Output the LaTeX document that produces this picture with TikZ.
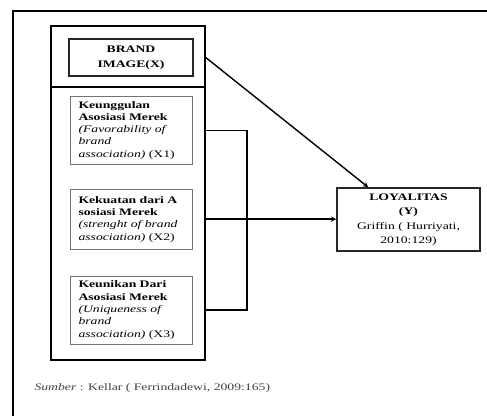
\documentclass[tikz,border=0pt]{standalone}
\usepackage{fontspec}
\setmainfont{Liberation Serif}[FakeStretch=1.37]
\usetikzlibrary{positioning}

\begin{document}
\begin{tikzpicture}[x=1pt, y=-1pt, >=stealth,
    grpbox/.style={draw, line width=1.5pt, minimum width=154pt, minimum height=334pt},
    brandbox/.style={draw=black!85, line width=1.6pt, align=center, minimum width=124pt,
        minimum height=37pt, font=\fontsize{10}{15}\selectfont\bfseries},
    textbox/.style={draw=black!55, line width=0.9pt, align=left, text width=105pt,
        inner xsep=8.5pt, minimum height=68pt, font=\fontsize{10}{12.3}\selectfont},
    loybox/.style={draw=black!85, line width=1.4pt, align=center, minimum width=143pt,
        minimum height=63pt, font=\fontsize{10}{14.5}\selectfont},
    link/.style={line width=1.4pt}]
\useasboundingbox (0,0) rectangle (487,415);
\clip (0,0) rectangle (487,415);
% page frame, runs off the picture on the right and at the bottom
\draw[line width=1.6pt] (13,440) |- (520,11);

\node[grpbox] (grp) at (128,193) {};
\coordinate (cut) at (128,87);
\draw[line width=1.4pt] (cut -| grp.west) -- (cut -| grp.east);

\node[brandbox] (brand) at (131,57.5) {BRAND\\IMAGE(X)};
\node[textbox, below=19pt of brand] (fav) {\textbf{Keunggulan}\\\textbf{Asosiasi Merek}\\\textit{(Favorability of}\\\textit{brand}\\\textit{association)} (X1)};
\node[textbox, minimum height=60pt, below=24pt of fav] (str) {\textbf{Kekuatan dari A}\\\textbf{sosiasi Merek}\\\textit{(strenght of brand}\\\textit{association)} (X2)};
\node[textbox, below=26pt of str] (uni) {\textbf{Keunikan Dari}\\\textbf{Asosiasi Merek}\\\textit{(Uniqueness of}\\\textit{brand}\\\textit{association)} (X3)};

\node[loybox] (loy) at (408.5,219.5) {\textbf{LOYALITAS}\\\textbf{(Y)}\\Griffin ( Hurriyati,\\2010:129)};

\coordinate (bus) at (247,217);
\draw[link] (fav -| grp.east) -- (fav -| bus) -- (uni -| bus) -- (uni -| grp.east);
\draw[link, ->] (str -| grp.east) -- (str -| loy.west);
\draw[link, ->] (brand -| grp.east) -- (loy);

\node[anchor=west, text=black!75, font=\fontsize{10}{12}\selectfont] (src) at (31,388) {\textit{Sumber} : Kellar ( Ferrindadewi, 2009:165)};
\end{tikzpicture}
\end{document}
